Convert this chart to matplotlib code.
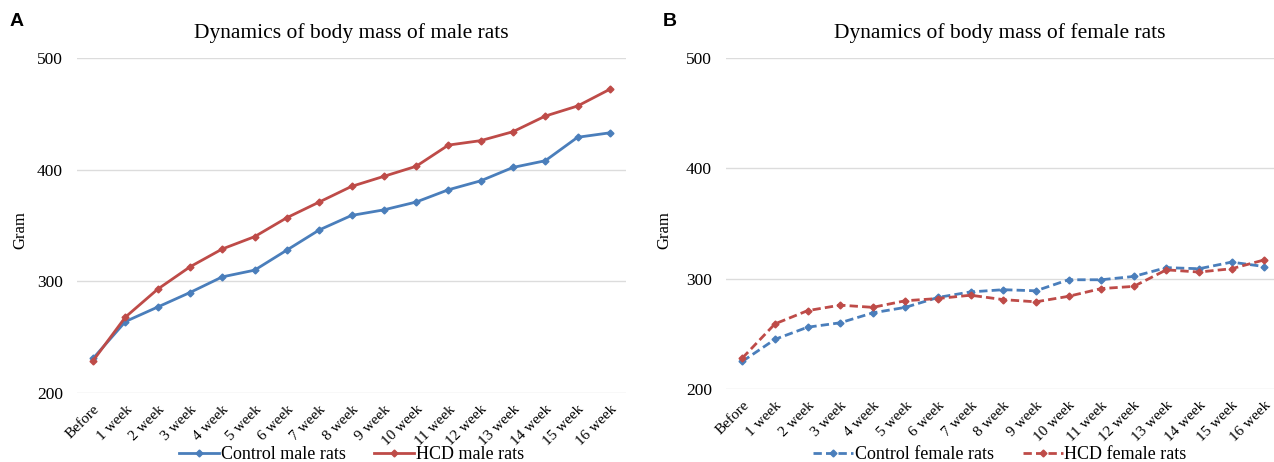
import matplotlib
matplotlib.use("Agg")
import matplotlib.pyplot as plt

weeks = ["Before"] + [f"{i} week" for i in range(1, 17)]

control_male = [231, 264, 277, 290, 304, 310, 328, 346, 359, 364, 371, 382, 390, 402, 408, 429, 433]
hcd_male = [229, 268, 293, 313, 329, 340, 357, 371, 385, 394, 403, 422, 426, 434, 448, 457, 472]

control_female = [225, 245, 256, 260, 269, 274, 283, 288, 290, 289, 299, 299, 302, 310, 309, 315, 311]
hcd_female = [228, 259, 271, 276, 274, 280, 282, 285, 281, 279, 284, 291, 293, 308, 306, 309, 317]

BLUE = "#4a7ebb"
RED = "#be4b48"
SERIF = "Liberation Serif"

fig = plt.figure(figsize=(12.74, 4.62), dpi=100)


def panel(rect, letter, letter_x, title, s1, s2, lab1, lab2, ls, xmax, ylab_x):
    ax = fig.add_axes(rect)
    x = range(len(weeks))
    kw = dict(lw=2, marker="D", ms=3.5)
    if ls == "--":
        kw["dashes"] = (3, 1.5)
    ax.plot(x, s1, color=BLUE, label=lab1, **kw)
    ax.plot(x, s2, color=RED, label=lab2, **kw)
    ax.set_ylim(200, 500)
    ax.set_xlim(-0.5, xmax)
    ax.set_yticks([200, 300, 400, 500])
    ax.set_xticks(list(x))
    ax.set_xticklabels(weeks, rotation=45, ha="right", rotation_mode="anchor",
                       family=SERIF, fontsize=11)
    for t in ax.get_yticklabels():
        t.set_family(SERIF)
        t.set_fontsize(12.5)
    ax.tick_params(length=0, pad=10)
    ax.tick_params(axis="x", pad=7)
    ax.grid(axis="y", color="#dcdcdc", lw=1)
    ax.set_axisbelow(True)
    for sp in ax.spines.values():
        sp.set_visible(False)
    cx = rect[0] + rect[2] / 2
    fig.text(cx, 1 - 33 / 462, title, family=SERIF, fontsize=15.5,
             ha="center", va="center")
    fig.text(letter_x, 1 - 22 / 462, letter, family="Liberation Sans",
             fontweight="bold", fontsize=14, ha="left", va="center")
    fig.text(ylab_x, 1 - 230 / 462, "Gram", family=SERIF, fontsize=12,
             rotation=90, ha="center", va="center")
    fig.legend(handles=ax.get_lines(), loc="center", bbox_to_anchor=(cx, 0.016),
               ncol=2, frameon=False, prop={"family": SERIF, "size": 13},
               handlelength=2.2, handletextpad=0.1, columnspacing=1.6,
               borderaxespad=0)
    return ax


panel([77 / 1274, 1 - 393 / 462, 549 / 1274, 335 / 462], "A", 10 / 1274,
      "Dynamics of body mass of male rats", control_male, hcd_male,
      "Control male rats", "HCD male rats", "-", 16.5, 20 / 1274)

panel([726 / 1274, 1 - 389 / 462, 548 / 1274, 331 / 462], "B", 663 / 1274,
      "Dynamics of body mass of female rats", control_female, hcd_female,
      "Control female rats", "HCD female rats", "--", 16.3, 664 / 1274)

fig.savefig("out.png", dpi=100)
